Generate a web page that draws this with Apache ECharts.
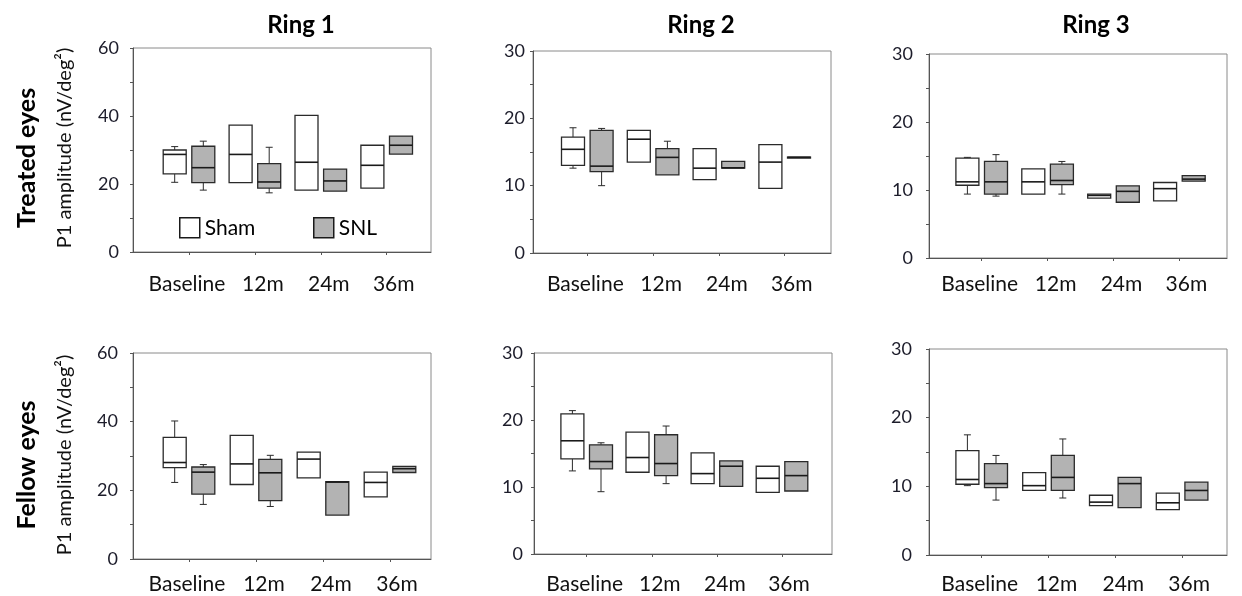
<!DOCTYPE html>
<html>
<head>
<meta charset="utf-8">
<script src="https://cdn.jsdelivr.net/npm/echarts@6/dist/echarts.min.js"></script>
<style>
html,body{margin:0;padding:0;background:#fff;}
#chart{width:1242px;height:596px;}
</style>
</head>
<body>
<div id="chart"></div>
<script>
// ---------------- DATA ----------------
const categories = ['Baseline', '12m', '24m', '36m'];
const ringTitles = ['Ring 1', 'Ring 2', 'Ring 3'];
const rowLabels = ['Treated eyes', 'Fellow eyes'];
const yAxisTitle = 'P1 amplitude (nV/deg\u00B2)';
const seriesNames = ['Sham', 'SNL'];
// each box: [min, Q1, median, Q3, max]
const treatedRing1Sham = [[20.5,23.0,28.7,30.0,31.0],[20.4,20.4,28.7,37.3,37.3],[18.2,18.2,26.4,40.2,40.2],[18.8,18.8,25.5,31.4,31.4]];
const treatedRing1SNL  = [[18.2,20.4,24.8,31.1,32.6],[17.4,18.8,20.6,26.0,30.8],[17.9,17.9,20.9,24.4,24.4],[28.8,28.8,31.4,34.1,34.1]];
const treatedRing2Sham = [[12.6,13.0,15.4,17.2,18.6],[13.5,13.5,16.9,18.2,18.2],[10.9,10.9,12.6,15.5,15.5],[9.6,9.6,13.5,16.1,16.1]];
const treatedRing2SNL  = [[10.0,12.1,12.9,18.2,18.5],[11.6,11.6,14.2,15.5,16.6],[12.6,12.6,12.65,13.6,13.6],[14.1,14.1,14.2,14.25,14.25]];
const treatedRing3Sham = [[9.4,10.7,11.2,14.7,14.8],[9.4,9.4,11.2,13.1,13.1],[8.8,8.8,9.2,9.4,9.4],[8.4,8.4,10.2,11.1,11.1]];
const treatedRing3SNL  = [[9.1,9.4,11.2,14.2,15.2],[9.4,10.8,11.4,13.8,14.2],[8.2,8.2,9.8,10.6,10.6],[11.3,11.3,11.6,12.1,12.1]];
const fellowRing1Sham  = [[22.3,26.6,28.1,35.4,40.2],[21.7,21.7,27.7,36.0,36.0],[23.6,23.6,29.1,31.1,31.1],[18.1,18.1,22.3,25.3,25.3]];
const fellowRing1SNL   = [[15.9,18.9,25.3,26.8,27.5],[15.3,17.0,25.1,29.0,30.2],[12.8,12.8,22.4,22.5,22.5],[25.2,25.2,26.3,27.0,27.0]];
const fellowRing2Sham  = [[12.4,14.2,16.9,20.9,21.4],[12.2,12.2,14.4,18.2,18.2],[10.5,10.5,12.0,15.1,15.1],[9.2,9.2,11.3,13.1,13.1]];
const fellowRing2SNL   = [[9.3,12.7,13.8,16.3,16.6],[10.5,11.7,13.5,17.8,19.1],[10.1,10.1,13.1,13.9,13.9],[9.4,9.4,11.7,13.8,13.8]];
const fellowRing3Sham  = [[10.1,10.3,11.0,15.2,17.5],[9.4,9.4,10.1,12.0,12.0],[7.2,7.2,7.7,8.7,8.7],[6.6,6.6,7.6,9.0,9.0]];
const fellowRing3SNL   = [[8.0,9.8,10.4,13.3,14.5],[8.3,9.4,11.3,14.5,16.9],[6.9,6.9,10.4,11.3,11.3],[8.0,8.0,9.4,10.6,10.6]];
const yMaxRing = [60, 30, 30];
const yIntervalRing = [20, 10, 10];

// ---------------- LAYOUT ----------------
const FONT = 'Lato';
const panels = [
  {sham: treatedRing1Sham, snl: treatedRing1SNL, ring:0, left:133, top:48, bottom:252, c0:189,   sp:65.9, yMargin:14, xMargin:22},
  {sham: treatedRing2Sham, snl: treatedRing2SNL, ring:1, left:533, top:51, bottom:253, c0:587.3, sp:65.8, yMargin:8,  xMargin:21},
  {sham: treatedRing3Sham, snl: treatedRing3SNL, ring:2, left:929, top:54, bottom:258, c0:981.7, sp:65.9, yMargin:16, xMargin:16},
  {sham: fellowRing1Sham,  snl: fellowRing1SNL,  ring:0, left:133, top:353, bottom:559, c0:189,  sp:67.0, yMargin:15, xMargin:15},
  {sham: fellowRing2Sham,  snl: fellowRing2SNL,  ring:1, left:534, top:353, bottom:554, c0:586.7, sp:65.1, yMargin:11, xMargin:20},
  {sham: fellowRing3Sham,  snl: fellowRing3SNL,  ring:2, left:929, top:349, bottom:555, c0:981.7, sp:66.8, yMargin:17, xMargin:19}
];
const LABEL_SHIFT_PX = [-2, 8, 8, 7];
const PANEL_W = 298;
const BOX_PX = 23;
const OFF_PX = 14.3;

function makeRender(offPx, fill, panel) {
  return function (params, api) {
    const cat = api.value(0);
    const off = offPx / panel.sp;
    const c = cat + off;
    const lo = api.value(1), q1 = api.value(2), med = api.value(3), q3 = api.value(4), hi = api.value(5);
    const w = api.size([BOX_PX / panel.sp, 0])[0];
    const pLo = api.coord([c, lo]), pQ1 = api.coord([c, q1]), pMed = api.coord([c, med]);
    const pQ3 = api.coord([c, q3]), pHi = api.coord([c, hi]);
    const x = pQ1[0];
    const stroke = '#2a2a2a';
    const children = [];
    if (hi > q3) {
      children.push({type:'line', shape:{x1:x, y1:pQ3[1], x2:x, y2:pHi[1]}, style:{stroke:stroke, lineWidth:1}});
      children.push({type:'line', shape:{x1:x-3.5, y1:pHi[1], x2:x+3.5, y2:pHi[1]}, style:{stroke:stroke, lineWidth:1}});
    }
    if (lo < q1) {
      children.push({type:'line', shape:{x1:x, y1:pQ1[1], x2:x, y2:pLo[1]}, style:{stroke:stroke, lineWidth:1}});
      children.push({type:'line', shape:{x1:x-3.5, y1:pLo[1], x2:x+3.5, y2:pLo[1]}, style:{stroke:stroke, lineWidth:1}});
    }
    children.push({type:'rect', shape:{x:x - w/2, y:pQ3[1], width:w, height:Math.max(pQ1[1]-pQ3[1], 1)},
      style:{fill:fill, stroke:stroke, lineWidth:1.3}});
    children.push({type:'line', shape:{x1:x - w/2, y1:pMed[1], x2:x + w/2, y2:pMed[1]}, style:{stroke:'#1a1a1a', lineWidth:1.6}});
    return {type:'group', children:children};
  };
}

const grid = [], xAxis = [], yAxis = [], series = [];
panels.forEach(function (p, i) {
  const height = p.bottom - p.top;
  grid.push({left:p.left, top:p.top, width:PANEL_W, height:height, show:true, borderColor:'#8a8a8a', borderWidth:1, containLabel:false});
  const first = p.c0 - p.left;
  const labelPos = categories.map(function (c, k) { return k + LABEL_SHIFT_PX[k] / p.sp; });
  xAxis.push({
    type:'value', gridIndex:i, min:-first / p.sp, max:(PANEL_W - first) / p.sp,
    splitLine:{show:false},
    axisLine:{show:true, onZero:false, lineStyle:{color:'#555', width:1}},
    axisTick:{show:true, length:3, customValues:[0,1,2,3], lineStyle:{color:'#555'}},
    axisLabel:{show:true, customValues:labelPos, margin:p.xMargin,
      formatter:function (v) { return categories[Math.round(v)]; },
      fontFamily:FONT, fontSize:21, color:'#111'}
  });
  const ymax = yMaxRing[p.ring], yint = yIntervalRing[p.ring];
  yAxis.push({
    type:'value', gridIndex:i, min:0, max:ymax, interval:yint,
    splitLine:{show:false},
    axisLine:{show:true, onZero:false, lineStyle:{color:'#555', width:1}},
    axisTick:{show:true, length:3, lineStyle:{color:'#555'}},
    minorTick:{show:true, splitNumber:2, length:3, lineStyle:{color:'#555'}},
    axisLabel:{margin:p.yMargin, fontFamily:FONT, fontSize:18, color:'#1c1c2a'}
  });
  const shamData = p.sham.map(function (b, k) { return [k].concat(b); });
  const snlData = p.snl.map(function (b, k) { return [k].concat(b); });
  series.push({type:'custom', name:seriesNames[0], xAxisIndex:i, yAxisIndex:i,
    renderItem:makeRender(-OFF_PX, '#ffffff', p), encode:{x:0, y:[1,2,3,4,5]}, data:shamData,
    itemStyle:{color:'#ffffff', borderColor:'#222'}});
  series.push({type:'custom', name:seriesNames[1], xAxisIndex:i, yAxisIndex:i,
    renderItem:makeRender(OFF_PX, '#b3b3b3', p), encode:{x:0, y:[1,2,3,4,5]}, data:snlData,
    itemStyle:{color:'#b3b3b3', borderColor:'#222'}});
});

const titleX = [301, 701, 1096];
const graphic = [];
ringTitles.forEach(function (t, i) {
  graphic.push({type:'text', x:titleX[i], y:25, style:{text:t, fontFamily:FONT, fontWeight:'bold', fontSize:24, fill:'#000', align:'center', verticalAlign:'middle'}});
});
const rowY = [158, 465];
const yTitleY = [148, 455];
rowLabels.forEach(function (t, i) {
  graphic.push({type:'text', x:27, y:rowY[i], rotation:Math.PI/2, style:{text:t, fontFamily:FONT, fontWeight:'bold', fontSize:25, fill:'#000', align:'center', verticalAlign:'middle'}});
  graphic.push({type:'text', x:65, y:yTitleY[i], rotation:Math.PI/2, style:{text:yAxisTitle, fontFamily:FONT, fontSize:20, fill:'#111', align:'center', verticalAlign:'middle'}});
});

const legendCommon = {orient:'horizontal', padding:0, itemWidth:20, itemHeight:20, itemGap:6, selectedMode:false,
  textStyle:{fontFamily:FONT, fontSize:21, color:'#000', padding:[0,0,0,0]}};
const legend = [
  Object.assign({}, legendCommon, {left:179, top:217, data:[{name:seriesNames[0], icon:'rect', itemStyle:{color:'#ffffff', borderColor:'#1a1a1a', borderWidth:1.5}}]}),
  Object.assign({}, legendCommon, {left:313, top:217, data:[{name:seriesNames[1], icon:'rect', itemStyle:{color:'#b3b3b3', borderColor:'#1a1a1a', borderWidth:1.5}}]})
];

const chart = echarts.init(document.getElementById('chart'));
chart.setOption({
  backgroundColor:'#ffffff',
  animation:false,
  grid:grid, xAxis:xAxis, yAxis:yAxis, series:series,
  legend:legend, graphic:graphic
});
</script>
</body>
</html>
